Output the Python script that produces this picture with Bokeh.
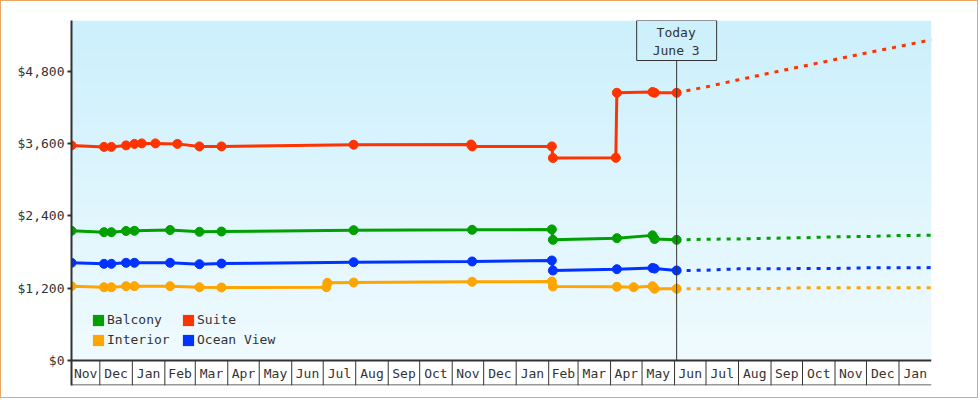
import numpy as np
import pandas as pd
from bokeh.plotting import figure
from bokeh.models import (Range1d, FixedTicker, NumeralTickFormatter, Span, Label,
                          Legend, LegendItem, ColumnDataSource)
from bokeh.embed import file_html
from bokeh.resources import INLINE
from bokeh.core.properties import value

# ---------------- data ----------------
TODAY = "2017-06-03"
X_START = "2015-11-04"
X_END = "2018-02-01"

balcony_dates = ["2015-11-04", "2015-12-05", "2015-12-12", "2015-12-26", "2016-01-03",
                 "2016-02-06", "2016-03-05", "2016-03-26", "2016-07-30", "2016-11-20",
                 "2017-02-04", "2017-02-05", "2017-04-07", "2017-05-11", "2017-05-13",
                 "2017-06-03"]
balcony_prices = [2152, 2129, 2129, 2149, 2152, 2165, 2135, 2140, 2162, 2168,
                  2175, 2002, 2030, 2076, 2016, 2002]

ocean_dates = list(balcony_dates)
ocean_prices = [1621, 1604, 1604, 1621, 1621, 1621, 1598, 1609, 1631, 1643,
                1659, 1493, 1515, 1535, 1525, 1493]

interior_dates = ["2015-11-04", "2015-12-05", "2015-12-12", "2015-12-26", "2016-01-03",
                  "2016-02-06", "2016-03-05", "2016-03-26", "2016-07-04", "2016-07-05",
                  "2016-07-30", "2016-11-20", "2017-02-04", "2017-02-05", "2017-04-07",
                  "2017-04-23", "2017-05-11", "2017-05-13", "2017-06-03"]
interior_prices = [1233, 1216, 1216, 1233, 1233, 1233, 1216, 1211, 1216, 1289,
                   1294, 1306, 1311, 1228, 1223, 1216, 1233, 1190, 1190]

suite_dates = ["2015-11-04", "2015-12-05", "2015-12-12", "2015-12-26", "2016-01-03",
               "2016-01-10", "2016-01-23", "2016-02-13", "2016-03-05", "2016-03-26",
               "2016-07-30", "2016-11-19", "2016-11-20", "2017-02-04", "2017-02-05",
               "2017-04-06", "2017-04-07", "2017-05-11", "2017-05-13", "2017-06-03"]
suite_prices = [3569, 3544, 3544, 3569, 3594, 3602, 3602, 3594, 3552, 3552,
                3580, 3583, 3552, 3552, 3360, 3363, 4442, 4455, 4442, 4442]

forecast_dates = ["2017-06-03", "2017-07-01", "2017-08-01", "2017-09-01", "2017-10-01",
                  "2017-11-01", "2017-12-01", "2018-01-01", "2018-02-01"]
suite_forecast = [4442, 4538, 4657, 4773, 4881, 4994, 5102, 5210, 5321]
balcony_forecast = [2002, 2012, 2016, 2029, 2036, 2052, 2057, 2074, 2077]
ocean_forecast = [1493, 1497, 1521, 1523, 1525, 1527, 1538, 1540, 1541]
interior_forecast = [1190, 1191, 1192, 1193, 1206, 1207, 1207, 1208, 1208]

y_ticks = [0, 1200, 2400, 3600, 4800]
month_starts = ["2015-12-01", "2016-01-01", "2016-02-01", "2016-03-01", "2016-04-01",
                "2016-05-01", "2016-06-01", "2016-07-01", "2016-08-01", "2016-09-01",
                "2016-10-01", "2016-11-01", "2016-12-01", "2017-01-01", "2017-02-01",
                "2017-03-01", "2017-04-01", "2017-05-01", "2017-06-01", "2017-07-01",
                "2017-08-01", "2017-09-01", "2017-10-01", "2017-11-01", "2017-12-01",
                "2018-01-01"]
month_labels = ["Nov", "Dec", "Jan", "Feb", "Mar", "Apr", "May", "Jun", "Jul", "Aug",
                "Sep", "Oct", "Nov", "Dec", "Jan", "Feb", "Mar", "Apr", "May", "Jun",
                "Jul", "Aug", "Sep", "Oct", "Nov", "Dec", "Jan"]

series = [
    ("Balcony", "#00A000", balcony_dates, balcony_prices, balcony_forecast),
    ("Suite", "#FF3300", suite_dates, suite_prices, suite_forecast),
    ("Interior", "#FFA500", interior_dates, interior_prices, interior_forecast),
    ("Ocean View", "#0033FF", ocean_dates, ocean_prices, ocean_forecast),
]

# ---------------- layout constants ----------------
FONT = "DejaVu Sans Mono"
TXT = "#333333"
W, H = 978, 398
ML, MR, MT, MB = 70, 48, 19, 14
frame_h = H - MT - MB
band_px = 25
y_end = 5641.0
upp = y_end / (frame_h - band_px)       # value units per pixel
y_start = -band_px * upp

def ts(s):
    return pd.Timestamp(s)

x0, x1 = ts(X_START), ts(X_END)

p = figure(width=W, height=H, x_axis_location=None,
           x_range=Range1d(x0, x1), y_range=Range1d(y_start, y_end),
           output_backend="svg", toolbar_location=None,
           min_border_left=ML, min_border_right=MR, min_border_top=MT, min_border_bottom=MB,
           background_fill_color="white", border_fill_color="white")
p.outline_line_color = None
p.xgrid.visible = False
p.ygrid.visible = False
p.styles = {"border": "1px solid #E8A862"}

# background gradient (plot area above $0)
n = 340
top = np.array([204, 240, 252], dtype=float)
bot = np.array([240, 251, 255], dtype=float)
t = np.linspace(0, 1, n)[:, None]
rgb = (bot + (top - bot) * t).astype(np.uint32)
img = (255 << 24) | (rgb[:, 2] << 16) | (rgb[:, 1] << 8) | rgb[:, 0]
img = img.reshape(n, 1).astype(np.uint32)
dw_ms = (x1 - x0).total_seconds() * 1000.0
p.image_rgba(image=[img], x=x0, y=0, dw=dw_ms, dh=y_end, level="image")

# series
legend_items = []
for name, color, d, v, fc in series:
    src = ColumnDataSource(dict(x=pd.to_datetime(d), y=v))
    p.line("x", "y", source=src, line_width=3, line_color=color)
    p.scatter("x", "y", source=src, size=9, fill_color=color, line_color=color)
    fsrc = ColumnDataSource(dict(x=pd.to_datetime(forecast_dates), y=fc))
    p.line("x", "y", source=fsrc, line_width=3, line_color=color, line_dash="4 6")
    r = p.quad(left=[np.nan], right=[np.nan], top=[np.nan], bottom=[np.nan],
               fill_color=color, line_color=None)
    legend_items.append(LegendItem(label=name, renderers=[r]))

# $0 baseline
p.add_layout(Span(location=0, dimension="width", line_color=TXT, line_width=2))

# month band: cell borders and bottom line
p.segment(x0=[ts(m) for m in month_starts], y0=[y_start] * len(month_starts),
          x1=[ts(m) for m in month_starts], y1=[0] * len(month_starts),
          line_color=TXT, line_width=1)
p.segment(x0=[x0], y0=[y_start + 0.5 * upp], x1=[x1], y1=[y_start + 0.5 * upp],
          line_color=TXT, line_width=1)

edges = [x0] + [ts(m) for m in month_starts] + [x1]
mids = [edges[i] + (edges[i + 1] - edges[i]) / 2 for i in range(len(edges) - 1)]
p.text(x=mids, y=[y_start / 2 - 0.5 * upp] * len(mids), text=month_labels,
       text_align="center", text_baseline="middle", text_font=value(FONT),
       text_font_size="13px", text_color=TXT)

# today marker
box_px = 40
box_bottom = y_end - box_px * upp
today = ts(TODAY)
p.segment(x0=[today], y0=[0], x1=[today], y1=[box_bottom], line_color=TXT, line_width=1)
p.add_layout(Label(x=today, y=y_end, text="Today\nJune 3", text_align="center",
                   text_baseline="top", text_font=FONT, text_font_size="13px",
                   text_color=TXT, text_line_height=1.2,
                   border_line_color=TXT, border_line_width=1,
                   background_fill_color=None, padding=(16, 17, 4, 3)))

# y axis
ya = p.yaxis[0]
ya.ticker = FixedTicker(ticks=y_ticks)
ya.formatter = NumeralTickFormatter(format="$0,0")
ya.axis_line_color = TXT
ya.axis_line_width = 2
ya.major_tick_in = 0
ya.major_tick_out = 4
ya.major_tick_line_width = 2
ya.major_tick_line_color = TXT
ya.minor_tick_line_color = None
ya.major_label_standoff = 3
ya.major_label_text_font = FONT
ya.major_label_text_font_size = "13px"
ya.major_label_text_color = TXT

legend = Legend(items=legend_items, orientation="horizontal", nrows=2,
                location=(20, 38), padding=0, margin=0, spacing=5,
                glyph_width=14, glyph_height=14, label_height=14, label_width=69,
                label_standoff=2, label_text_font=FONT, label_text_font_size="13px",
                label_text_color=TXT, background_fill_alpha=0, border_line_alpha=0)
p.add_layout(legend)

open("out.html", "w").write(file_html(p, INLINE))
